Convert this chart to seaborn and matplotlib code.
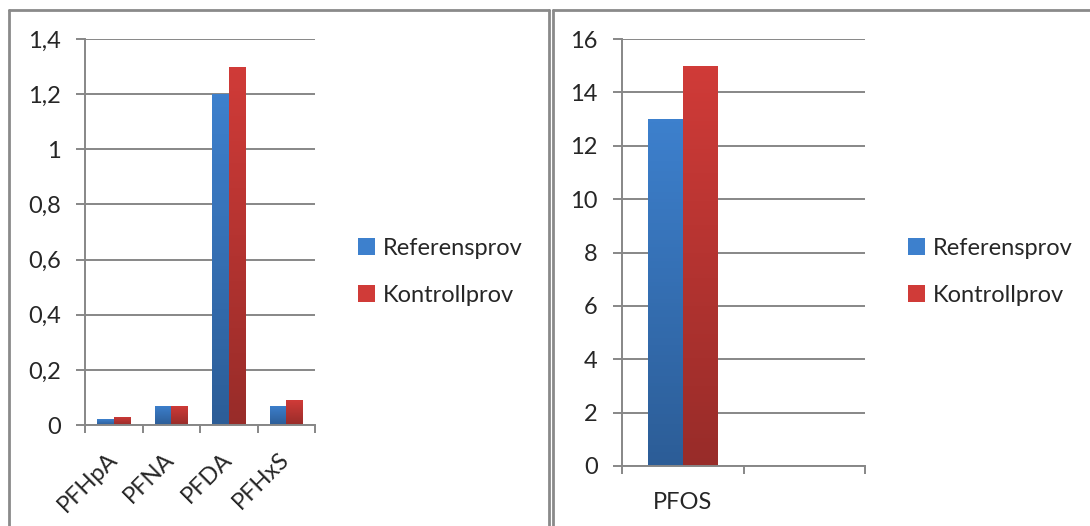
import numpy as np
import pandas as pd
import seaborn as sns
import matplotlib.pyplot as plt
from matplotlib.lines import Line2D
from matplotlib.patches import Patch
from matplotlib.colors import LinearSegmentedColormap, to_rgba
from matplotlib.ticker import FuncFormatter, FixedLocator

# Data
series = ["Referensprov", "Kontrollprov"]
left_cats = ["PFHpA", "PFNA", "PFDA", "PFHxS"]
left_ref = [0.02, 0.07, 1.2, 0.07]
left_ctrl = [0.03, 0.07, 1.3, 0.09]
right_cats = ["PFOS", ""]
right_ref = [13]
right_ctrl = [15]

# top colour, bottom colour of the bar gradient
colors = {"Referensprov": ("#3d80cd", "#2c5d97"),
          "Kontrollprov": ("#d03b38", "#982c29")}

sns.set_theme(style="white")
plt.rcParams["font.family"] = ["Lato", "DejaVu Sans"]
FS = 17
GRID = "#878787"

left_df = pd.DataFrame({
    "cat": left_cats * 2,
    "serie": ["Referensprov"] * 4 + ["Kontrollprov"] * 4,
    "val": left_ref + left_ctrl,
})
right_df = pd.DataFrame({
    "cat": ["PFOS", "PFOS"],
    "serie": series,
    "val": right_ref + right_ctrl,
})

fig = plt.figure(figsize=(10.9, 5.26), dpi=100)
W, H = 1090, 526


def px_axes(x0, y0, x1, y1):
    return fig.add_axes([x0 / W, 1 - y1 / H, (x1 - x0) / W, (y1 - y0) / H])


def comma(v, pos):
    s = f"{v:.1f}".rstrip("0").rstrip(".")
    return s.replace(".", ",")


def style_axes(ax, data, order, ymax, ystep, rot):
    sns.barplot(data=data, x="cat", y="val", hue="serie", order=order,
                hue_order=series, palette=[colors[s][0] for s in series],
                width=4 / 7, saturation=1, linewidth=0, legend=False, ax=ax)
    # gradient fill for each bar, clipped to the bar
    for patch in list(ax.patches):
        x, y = patch.get_x(), patch.get_y()
        w, h = patch.get_width(), patch.get_height()
        if h <= 0 or np.isnan(h):
            continue
        fc = np.array(patch.get_facecolor())
        key = min(colors, key=lambda k: np.sum((np.array(to_rgba(colors[k][0])) - fc) ** 2))
        cmap = LinearSegmentedColormap.from_list("g", [colors[key][1], colors[key][0]])
        grad = np.linspace(0, 1, 100).reshape(-1, 1)
        im = ax.imshow(grad, extent=[x, x + w, y, y + h], origin="lower",
                       aspect="auto", cmap=cmap, zorder=patch.get_zorder() + 0.1)
        im.set_clip_path(patch)
    ax.set_xlim(-0.5, len(order) - 0.5)
    ax.set_ylim(0, ymax)
    ax.set_aspect("auto")
    ax.set_yticks(np.arange(0, ymax + ystep / 2, ystep))
    ax.yaxis.set_major_formatter(FuncFormatter(comma))
    ax.yaxis.grid(True, color=GRID, lw=1.4)
    ax.set_axisbelow(True)
    for s in ["top", "right"]:
        ax.spines[s].set_visible(False)
    for s in ["left", "bottom"]:
        ax.spines[s].set_color(GRID)
        ax.spines[s].set_linewidth(1.4)
    ax.tick_params(axis="y", direction="out", length=6.5, width=1.4,
                   color=GRID, pad=11, labelsize=FS, left=True)
    ax.xaxis.set_minor_locator(FixedLocator(np.arange(-0.5, len(order), 1)))
    ax.tick_params(axis="x", which="minor", direction="out", length=6,
                   width=1.4, color=GRID, bottom=True)
    ax.tick_params(axis="x", which="major", length=0, labelsize=FS)
    ax.set_xlabel("")
    ax.set_ylabel("")
    if rot:
        ax.set_xticks(range(len(order)))
        ax.set_xticklabels(order, rotation=45, ha="right", va="center",
                           rotation_mode="anchor")
        ax.tick_params(axis="x", which="major", pad=22)
    else:
        ax.tick_params(axis="x", which="major", pad=19)


ax1 = px_axes(85, 39, 315, 425)
style_axes(ax1, left_df, left_cats, 1.4, 0.2, True)

ax2 = px_axes(622, 39, 865, 466)
style_axes(ax2, right_df, right_cats, 16, 2, False)

handles = [Patch(facecolor=colors[s][0], edgecolor="none") for s in series]
for xl in (358, 908):
    fig.legend(handles, series, loc="center left",
               bbox_to_anchor=(xl / W, 1 - 272 / H), frameon=False,
               fontsize=FS, borderpad=0, borderaxespad=0,
               handlelength=0.7, handleheight=0.7,
               handletextpad=0.35, labelspacing=1.1)

# chart frames
fc = "#8a8a8a"
top = 1 - 10 / H
fig.add_artist(Line2D([9 / W, 9 / W], [0, top], color=fc, lw=2, transform=fig.transFigure))
fig.add_artist(Line2D([9 / W, 549 / W], [top, top], color=fc, lw=2, transform=fig.transFigure))
fig.add_artist(Line2D([549 / W, 549 / W], [0, top], color=fc, lw=2, transform=fig.transFigure))
fig.add_artist(Line2D([553 / W, 553 / W], [0, top], color=fc, lw=2, transform=fig.transFigure))
fig.add_artist(Line2D([553 / W, 1], [top, top], color=fc, lw=2, transform=fig.transFigure))

fig.savefig("out.png", dpi=100)
